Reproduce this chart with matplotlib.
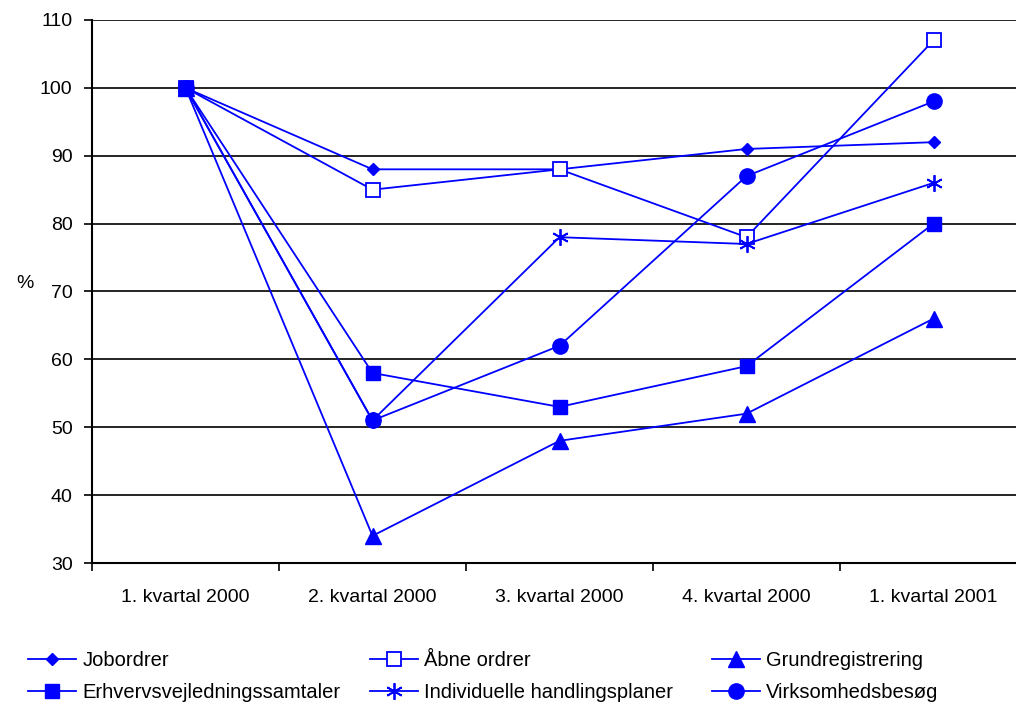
import numpy as np
import matplotlib
matplotlib.use("Agg")
import matplotlib.pyplot as plt

plt.rcParams['font.family'] = ['Liberation Sans', 'DejaVu Sans']

kvartaler = ['1. kvartal 2000', '2. kvartal 2000', '3. kvartal 2000',
             '4. kvartal 2000', '1. kvartal 2001']
jobordrer = [100, 88, 88, 91, 92]
aabne_ordrer = [100, 85, 88, 78, 107]
grundregistrering = [100, 34, 48, 52, 66]
erhvervsvejledning = [100, 58, 53, 59, 80]
handlingsplaner = [100, 51, 78, 77, 86]
virksomhedsbesoeg = [100, 51, 62, 87, 98]

blue = '#0000FF'
fig = plt.figure(figsize=(10.16, 7.04), dpi=100)
ax = fig.add_axes([92/1016, 1-563/704, 935/1016, 543/704])

x = np.arange(len(kvartaler))
lw = 1.3
l1, = ax.plot(x, jobordrer, color=blue, lw=lw, marker='D', ms=6, label='Jobordrer')
l2, = ax.plot(x, aabne_ordrer, color=blue, lw=lw, marker='s', ms=10, mfc='white',
              mew=1.3, label='Åbne ordrer')
l3, = ax.plot(x, grundregistrering, color=blue, lw=lw, marker='^', ms=11, label='Grundregistrering')
l4, = ax.plot(x, erhvervsvejledning, color=blue, lw=lw, marker='s', ms=10,
              label='Erhvervsvejledningssamtaler')
l5, = ax.plot(x, handlingsplaner, color=blue, lw=lw, marker=(6, 2, 0), ms=12, mew=1.3,
              label='Individuelle handlingsplaner')
l6, = ax.plot(x, virksomhedsbesoeg, color=blue, lw=lw, marker='o', ms=11, label='Virksomhedsbesøg')

ax.set_xlim(-0.5, 4.5)
ax.set_ylim(30, 110)
ax.set_yticks(np.arange(30, 111, 10))
ax.yaxis.grid(True, color='black', lw=1.2)
ax.set_axisbelow(True)
ax.set_xticks(np.arange(-0.5, 5, 1))
ax.set_xticklabels([])
ax.set_xticks(x, minor=True)
ax.set_xticklabels(kvartaler, minor=True, fontsize=14)
ax.tick_params(axis='x', which='minor', length=0, pad=19)
ax.tick_params(axis='x', which='major', length=6, width=1.2, direction='out')
ax.tick_params(axis='y', length=6, width=1.2, labelsize=14, pad=8)
for s in ['top', 'right']:
    ax.spines[s].set_visible(False)
for s in ['left', 'bottom']:
    ax.spines[s].set_linewidth(1.5)
ax.set_ylabel('%', rotation=0, fontsize=14)
ax.yaxis.set_label_coords(-0.072, 0.5)

# one legend per column, so the columns sit where the reference has them
columns = [([l1, l4], 28), ([l2, l5], 370), ([l3, l6], 712)]
for hs, xpix in columns:
    leg = fig.legend(handles=hs, labels=[h.get_label() for h in hs],
                     loc='upper left', bbox_to_anchor=(xpix/1016, 1-651/704),
                     frameon=False, fontsize=14.5, handlelength=2.4,
                     handletextpad=0.3, labelspacing=0.65, borderpad=0,
                     borderaxespad=0)

fig.savefig('out.png', dpi=100)
